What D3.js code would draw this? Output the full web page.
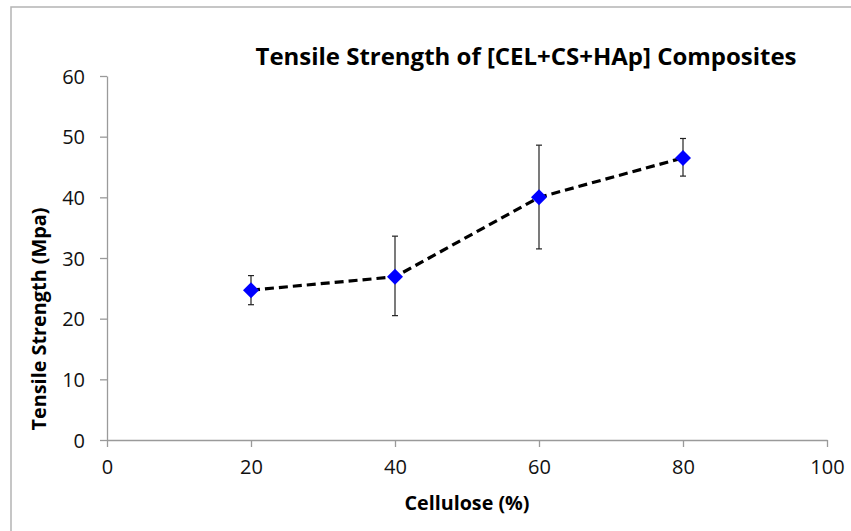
<!DOCTYPE html>
<html>
<head>
<meta charset="utf-8">
<script src="https://cdn.jsdelivr.net/npm/d3@7"></script>
<style>
  html, body { margin: 0; padding: 0; background: #fff; }
  svg { display: block; }
</style>
</head>
<body>
<svg id="chart" width="851" height="531"></svg>
<script>
const cellulose = [20, 40, 60, 80];
const strength = [24.7, 26.9, 40.0, 46.5];
const errLow = [22.3, 20.5, 31.5, 43.5];
const errHigh = [27.1, 33.6, 48.6, 49.7];
const xTicks = [0, 20, 40, 60, 80, 100];
const yTicks = [0, 10, 20, 30, 40, 50, 60];
const titleText = "Tensile Strength of [CEL+CS+HAp] Composites";
const xLabel = "Cellulose (%)";
const yLabel = "Tensile Strength (Mpa)";

const svg = d3.select("#chart");
const font = "'Open Sans', 'Noto Sans', sans-serif";

// frame
svg.append("rect").attr("x", 11).attr("y", 7).attr("width", 860).attr("height", 560)
  .attr("fill", "#fff").attr("stroke", "#b4b4b4").attr("stroke-width", 1.5);

const x = d3.scaleLinear().domain([0, 100]).range([107, 827]);
const y = d3.scaleLinear().domain([0, 60]).range([440, 76]);

const axisColor = "#9a9a9a";

const gx = svg.append("g").attr("transform", "translate(0,440)")
  .call(d3.axisBottom(x).tickValues(xTicks).tickSize(7).tickPadding(13).tickSizeOuter(0));
const gy = svg.append("g").attr("transform", "translate(107,0)")
  .call(d3.axisLeft(y).tickValues(yTicks).tickSize(7).tickPadding(15).tickSizeOuter(0));

[gx, gy].forEach(g => {
  g.select(".domain").attr("stroke", axisColor).attr("stroke-width", 1.3);
  g.selectAll(".tick line").attr("stroke", axisColor).attr("stroke-width", 1.3);
  g.selectAll(".tick text").attr("fill", "#111").style("font-family", font).style("font-size", "20px");
});
gy.selectAll(".tick text").attr("dy", "0.35em");

// title
svg.append("text").attr("x", 526).attr("y", 65).attr("text-anchor", "middle")
  .style("font-family", font).style("font-size", "24px").style("font-weight", "bold")
  .attr("textLength", 541).attr("lengthAdjust", "spacingAndGlyphs")
  .text(titleText);

// axis titles
svg.append("text").attr("x", 467).attr("y", 510).attr("text-anchor", "middle")
  .style("font-family", font).style("font-size", "19px").style("font-weight", "bold")
  .attr("textLength", 125).attr("lengthAdjust", "spacingAndGlyphs")
  .text(xLabel);
svg.append("text").attr("transform", "translate(46,319) rotate(-90)").attr("text-anchor", "middle")
  .style("font-family", font).style("font-size", "19px").style("font-weight", "bold")
  .attr("textLength", 223).attr("lengthAdjust", "spacingAndGlyphs")
  .text(yLabel);

const data = cellulose.map((c, i) => ({ c, v: strength[i], lo: errLow[i], hi: errHigh[i] }));

// error bars
const eb = svg.append("g").attr("stroke", "#222").attr("stroke-width", 1.2);
data.forEach(d => {
  eb.append("line").attr("x1", x(d.c)).attr("x2", x(d.c)).attr("y1", y(d.lo)).attr("y2", y(d.hi));
  [d.lo, d.hi].forEach(v => {
    eb.append("line").attr("x1", x(d.c) - 3).attr("x2", x(d.c) + 3).attr("y1", y(v)).attr("y2", y(v));
  });
});

// dashed line
svg.append("path").datum(data)
  .attr("d", d3.line().x(d => x(d.c)).y(d => y(d.v)))
  .attr("fill", "none").attr("stroke", "#000").attr("stroke-width", 3.2)
  .attr("stroke-dasharray", "9,5");

// markers
svg.append("g").selectAll("path").data(data).join("path")
  .attr("d", d3.symbol().type(d3.symbolSquare).size(128))
  .attr("transform", d => `translate(${x(d.c)},${y(d.v)}) rotate(45)`)
  .attr("fill", "#0000ff");
</script>
</body>
</html>
